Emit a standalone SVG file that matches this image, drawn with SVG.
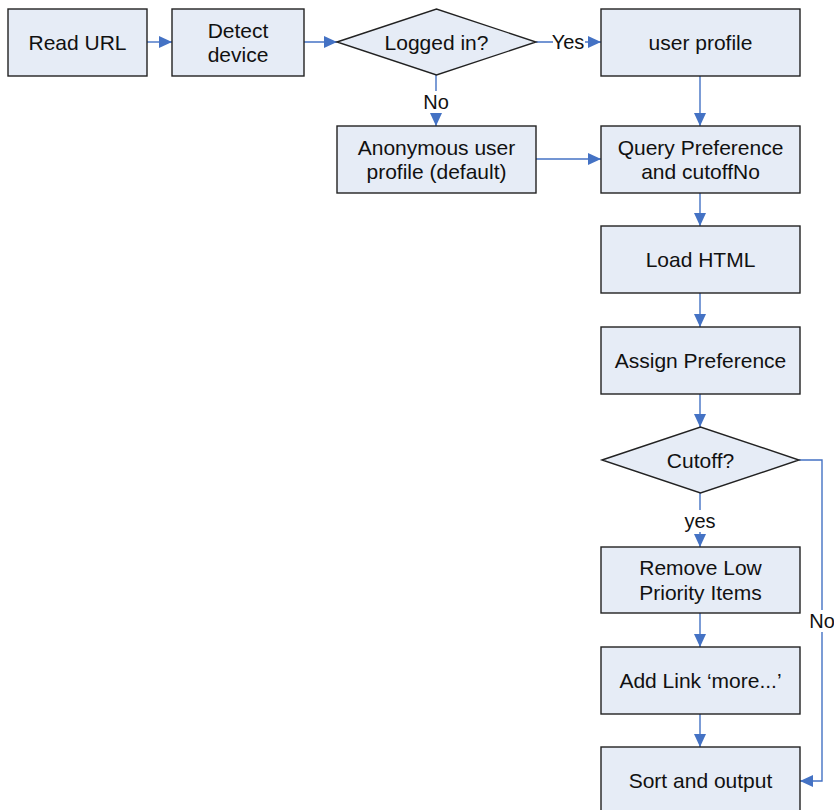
<svg xmlns="http://www.w3.org/2000/svg" width="834" height="810" viewBox="0 0 834 810">
<style>
.box{fill:#E6ECF6;stroke:#222;stroke-width:1.4}
.t{font-family:"Liberation Sans",Arial,sans-serif;font-size:21px;fill:#111;text-anchor:middle}
.lbl{font-family:"Liberation Sans",Arial,sans-serif;font-size:20px;fill:#111;text-anchor:middle}
.c{fill:none;stroke:#4472C4;stroke-width:1.4;marker-end:url(#ah)}
.bg{fill:#fff}
</style>
<defs>
<marker id="ah" markerUnits="userSpaceOnUse" markerWidth="13" markerHeight="13" viewBox="0 0 13 13" refX="13" refY="6.5" orient="auto">
<path d="M0,0.5 L13,6.5 L0,12.5 Z" fill="#4472C4"/>
</marker>
</defs>
<rect width="834" height="810" fill="#fff"/>
<g id="connectors">
<path class="c" d="M147,42 H172"/>
<path class="c" d="M304,42 H337"/>
<path class="c" d="M536,42 H601"/>
<path class="c" d="M436,75 V126"/>
<path class="c" d="M700,76 V126"/>
<path class="c" d="M536,159 H601"/>
<path class="c" d="M700,193 V226"/>
<path class="c" d="M700,293 V327"/>
<path class="c" d="M700,394 V427"/>
<path class="c" d="M700,493 V547"/>
<path class="c" d="M700,613 V647"/>
<path class="c" d="M700,714 V747"/>
<path class="c" d="M799,460 H822 V781 H800"/>
<rect class="bg" x="553" y="31" width="32" height="22"/>
<text class="lbl" x="568" y="49">Yes</text>
<rect class="bg" x="423" y="91" width="26" height="22"/>
<text class="lbl" x="436" y="109">No</text>
<rect class="bg" x="684" y="510" width="32" height="22"/>
<text class="lbl" x="700" y="528">yes</text>
<rect class="bg" x="809" y="610" width="26" height="22"/>
<text class="lbl" x="822" y="628">No</text>
</g>
<g id="read-url"><rect class="box" x="8" y="9" width="139" height="67"/><text class="t" x="77.5" y="50">Read URL</text></g>
<g id="detect-device"><rect class="box" x="172" y="9" width="132" height="67"/><text class="t" x="238" y="38">Detect</text><text class="t" x="238" y="62">device</text></g>
<g id="logged-in"><polygon class="box" points="337,42 436.5,9 536,42 436.5,75"/><text class="t" x="436.5" y="49.5">Logged in?</text></g>
<g id="user-profile"><rect class="box" x="601" y="9" width="199" height="67"/><text class="t" x="700.5" y="50">user profile</text></g>
<g id="anonymous"><rect class="box" x="337" y="126" width="199" height="67"/><text class="t" x="436.5" y="155">Anonymous user</text><text class="t" x="436.5" y="179">profile (default)</text></g>
<g id="query"><rect class="box" x="601" y="126" width="199" height="67"/><text class="t" x="700.5" y="155">Query Preference</text><text class="t" x="700.5" y="179">and cutoffNo</text></g>
<g id="load-html"><rect class="box" x="601" y="226" width="199" height="67"/><text class="t" x="700.5" y="267">Load HTML</text></g>
<g id="assign"><rect class="box" x="601" y="327" width="199" height="67"/><text class="t" x="700.5" y="368">Assign Preference</text></g>
<g id="cutoff"><polygon class="box" points="602,460 700.5,427 799,460 700.5,493"/><text class="t" x="700.5" y="467.5">Cutoff?</text></g>
<g id="remove"><rect class="box" x="601" y="547" width="199" height="66"/><text class="t" x="700.5" y="575">Remove Low</text><text class="t" x="700.5" y="600">Priority Items</text></g>
<g id="add-link"><rect class="box" x="601" y="647" width="199" height="67"/><text class="t" x="700.5" y="688">Add Link ‘more...’</text></g>
<g id="sort"><rect class="box" x="601" y="747" width="199" height="68"/><text class="t" x="700.5" y="788">Sort and output</text></g>
</svg>
